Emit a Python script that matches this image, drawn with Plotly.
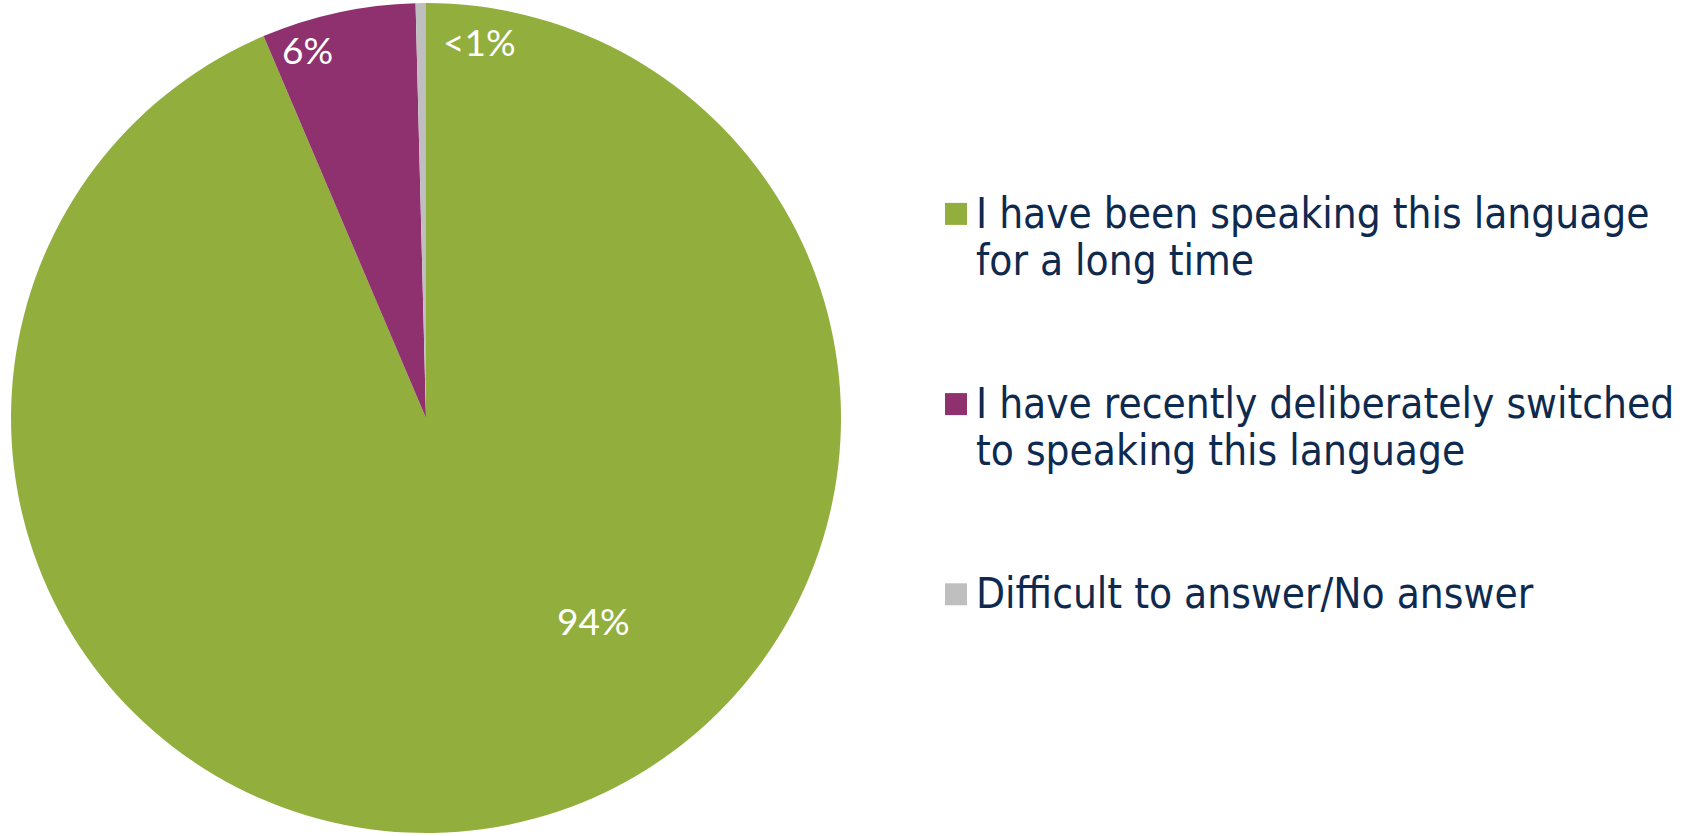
import plotly.graph_objects as go

# Data
categories = [
    "I have been speaking this language<br>for a long time",
    "I have recently deliberately switched<br>to speaking this language",
    "Difficult to answer/No answer",
]
values = [93.6, 6.0, 0.4]
value_labels = ["94%", "6%", "<1%"]
colors = ["#92AF3E", "#8E316E", "#BFBFBF"]

W, H = 1708, 836
TEXT_COLOR = "#0E2A4F"
LEG_SPAN = "<span style='font-size:42px'>{}</span>"


def legend_label(cat, last):
    lines = cat.split("<br>")
    body = "<br>".join(LEG_SPAN.format(l) for l in lines)
    if not last:
        pad = 4 - len(lines)
        body += "<br>&nbsp;" * pad
    return body


legend_labels = [legend_label(c, i == len(categories) - 1) for i, c in enumerate(categories)]

fig = go.Figure(
    go.Pie(
        labels=legend_labels,
        values=values,
        sort=False,
        direction="clockwise",
        rotation=0,
        marker=dict(colors=colors, line=dict(width=0)),
        textinfo="none",
        hoverinfo="label+percent",
        domain=dict(x=[11 / W, 841 / W], y=[0, 1]),
    )
)

# value labels
label_pos = [(593, 620), (307, 49), (480, 42)]
for txt, (px, py) in zip(value_labels, label_pos):
    fig.add_annotation(
        x=px / W, y=1 - py / H, xref="paper", yref="paper",
        text=txt.replace("<", "&lt;"), showarrow=False,
        font=dict(family="Lato, Open Sans, sans-serif", size=37, color="white"),
        xanchor="center", yanchor="middle",
    )

fig.update_layout(
    width=W, height=H,
    margin=dict(l=0, r=0, t=0, b=0),
    paper_bgcolor="white",
    plot_bgcolor="white",
    showlegend=True,
    legend=dict(
        x=936 / W, y=1 - 184 / H, xanchor="left", yanchor="top",
        valign="top",
        font=dict(family="DejaVu Sans Condensed, DejaVu Sans, sans-serif", size=36, color=TEXT_COLOR),
        bgcolor="rgba(0,0,0,0)",
        itemclick=False, itemdoubleclick=False,
    ),
)

post = (
    "document.body.style.margin='0';"
    "document.querySelectorAll('path.legendpie').forEach(function(p){"
    "p.setAttribute('d','M11,11H-11V-11H11Z');});"
)
fig.write_html("out.html", post_script=post, config={"displayModeBar": False})
